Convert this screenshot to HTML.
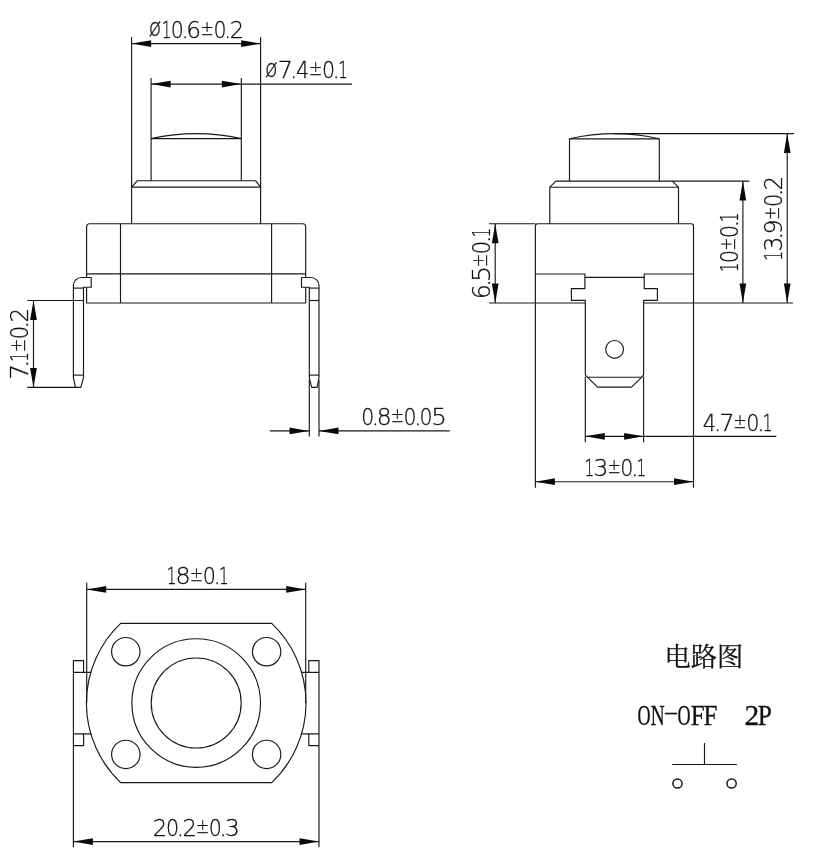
<!DOCTYPE html>
<html lang="zh"><head><meta charset="utf-8"><title>电路图</title>
<style>
html,body{margin:0;padding:0;background:#fff}
body{width:814px;height:854px;overflow:hidden}
svg{display:block;will-change:transform}
.ln{fill:none;stroke:#181818;stroke-width:1.15;stroke-linejoin:round}
.ar{fill:#0a0a0a;stroke:none}
.dm{font-family:"DejaVu Sans","Liberation Sans",sans-serif;font-weight:200;fill:#111;stroke:#111;stroke-width:0.3}
.lb{fill:#111}
</style></head><body>
<svg width="814" height="854" viewBox="0 0 814 854">
<rect width="814" height="854" fill="#fff"/>
<g class="ln">
<line x1="131.6" y1="37" x2="131.6" y2="223.7"/>
<line x1="260.6" y1="37" x2="260.6" y2="223.7"/>
<line x1="151.1" y1="78" x2="151.1" y2="180.7"/>
<line x1="241.3" y1="78" x2="241.3" y2="180.7"/>
<line x1="131.6" y1="43.6" x2="260.6" y2="43.6"/>
<line x1="151.1" y1="84.1" x2="352" y2="84.1"/>
<path d="M151.1,138.6 Q196.2,128.8 241.3,138.6"/>
<line x1="151.1" y1="138.6" x2="241.3" y2="138.6"/>
<path d="M131.6,187.1 L137.4,180.7 L255.5,180.7 L260.6,187.1 Z"/>
<path d="M86.6,277.5 L86.6,226.7 Q86.6,223.7 89.6,223.7 L302.7,223.7 Q305.7,223.7 305.7,226.7 L305.7,277.5"/>
<path d="M86.6,287.2 L86.6,303 L305.7,303 L305.7,287.2"/>
<line x1="120.5" y1="223.7" x2="120.5" y2="303"/>
<line x1="271.6" y1="223.7" x2="271.6" y2="303"/>
<line x1="86.6" y1="273.9" x2="305.7" y2="273.9"/>
<path d="M91.2,277.5 L81.4,277.5 A8,8 0 0 0 73.4,285.5 L73.4,377.6 L75.4,387.3 L80.8,387.3 L83.5,377.6 L83.5,287.9 L83.5,287.2 L91.2,287.2 Z"/>
<line x1="73.4" y1="288.1" x2="83.5" y2="288.1"/>
<line x1="73.4" y1="375.1" x2="83.5" y2="375.1"/>
<path d="M301.5,277.5 L311.0,277.5 A8,8 0 0 1 319.0,285.5 L319.0,377.6 L317.1,387.3 L311.7,387.3 L309.3,377.6 L309.3,287.9 L309.3,287.2 L301.5,287.2 Z"/>
<line x1="319.0" y1="288.1" x2="309.3" y2="288.1"/>
<line x1="319.0" y1="375.1" x2="309.3" y2="375.1"/>
<line x1="27.3" y1="300.5" x2="83.6" y2="300.5"/>
<line x1="27.3" y1="387.3" x2="76" y2="387.3"/>
<line x1="33.5" y1="300.5" x2="33.5" y2="387.4"/>
<line x1="309.3" y1="300.5" x2="319.0" y2="300.5"/>
<line x1="309.3" y1="380" x2="309.3" y2="436.5"/>
<line x1="319.0" y1="380" x2="319.0" y2="436.5"/>
<line x1="269.8" y1="430.9" x2="309.3" y2="430.9"/>
<line x1="319.0" y1="430.9" x2="449.7" y2="430.9"/>
<path d="M569.5,138.8 Q614.4,128.6 659.3,138.8"/>
<line x1="569.5" y1="138.8" x2="659.3" y2="138.8"/>
<line x1="569.5" y1="138.8" x2="569.5" y2="181.1"/>
<line x1="659.3" y1="138.8" x2="659.3" y2="181.1"/>
<path d="M549.8,187.2 L555.9,181.1 L672.3,181.1 L678.5,187.2 Z"/>
<line x1="549.8" y1="187.2" x2="549.8" y2="223.7"/>
<line x1="678.5" y1="187.2" x2="678.5" y2="223.7"/>
<path d="M535.4,487.8 L535.4,225.9 Q535.4,223.7 537.6,223.7 L691.3,223.7 Q693.5,223.7 693.5,225.9 L693.5,487.8"/>
<path d="M535.4,274 L584.9,274 L584.9,288.6 L571.4,288.6 L571.4,300.3 L585.3,300.3 L585.3,374.8 L587.4,377.2"/>
<line x1="585.3" y1="376.5" x2="585.3" y2="442.2"/>
<path d="M693.5,274 L644.2,274 L644.2,288.6 L657.4,288.6 L657.4,300.3 L643.6,300.3 L643.6,374.8 L641.8,377.2"/>
<line x1="643.6" y1="376.5" x2="643.6" y2="442.2"/>
<line x1="584.9" y1="277.3" x2="644.2" y2="277.3"/>
<line x1="489" y1="303" x2="585.3" y2="303"/>
<line x1="643.6" y1="303" x2="793" y2="303"/>
<line x1="489" y1="223.7" x2="535.4" y2="223.7"/>
<line x1="587.4" y1="377.2" x2="641.8" y2="377.2"/>
<path d="M587.4,377.2 L597.5,387.1 L631.5,387.1 L641.8,377.2"/>
<circle cx="614.6" cy="349.4" r="8.9"/>
<line x1="495.2" y1="223.7" x2="495.2" y2="303"/>
<line x1="672.3" y1="181.1" x2="749.3" y2="181.1"/>
<line x1="742.9" y1="181.1" x2="742.9" y2="303"/>
<line x1="614" y1="133.6" x2="794" y2="133.6"/>
<line x1="787.2" y1="133.6" x2="787.2" y2="303"/>
<line x1="585.3" y1="436.3" x2="776.3" y2="436.3"/>
<line x1="535.4" y1="481.7" x2="693.5" y2="481.7"/>
<path d="M120.7,623.4 L271.7,623.4 A109.5,109.5 0 0 1 271.7,782.6 L120.7,782.6 A109.5,109.5 0 0 1 120.7,623.4 Z"/>
<circle cx="196.2" cy="703.0" r="64.3"/>
<circle cx="196.2" cy="703.0" r="45.0"/>
<circle cx="125.8" cy="651.7" r="14.2"/>
<circle cx="125.8" cy="754.4" r="14.2"/>
<circle cx="266.6" cy="651.7" r="14.2"/>
<circle cx="266.6" cy="754.4" r="14.2"/>
<path d="M91.1,672.4 L73.4,672.4 M83.6,672.4 L83.6,660.6 L73.4,660.6 L73.4,847.2"/>
<path d="M91.1,733.8 L73.4,733.8 M83.6,733.8 L83.6,745.6 L73.4,745.6"/>
<path d="M301.3,672.4 L319.0,672.4 M308.8,672.4 L308.8,660.6 L319.0,660.6 L319.0,847.2"/>
<path d="M301.3,733.8 L319.0,733.8 M308.8,733.8 L308.8,745.6 L319.0,745.6"/>
<line x1="86.7" y1="582.7" x2="86.7" y2="703"/>
<line x1="305.7" y1="582.7" x2="305.7" y2="703"/>
<line x1="86.7" y1="589.4" x2="305.7" y2="589.4"/>
<line x1="73.4" y1="841.6" x2="319.0" y2="841.6"/>
<line x1="704.5" y1="743.0" x2="704.5" y2="764.5"/>
<line x1="672.2" y1="764.5" x2="736.9" y2="764.5"/>
<circle cx="677.5" cy="783.5" r="4.6" stroke-width="1.5"/>
<circle cx="731.6" cy="783.5" r="4.6" stroke-width="1.5"/>
</g>
<g class="ar">
<polygon points="131.6,43.6 151.1,40.2 151.1,47.0"/>
<polygon points="260.6,43.6 241.1,40.2 241.1,47.0"/>
<polygon points="151.1,84.1 170.6,80.8 170.6,87.4"/>
<polygon points="241.3,84.1 221.8,80.8 221.8,87.4"/>
<polygon points="33.5,300.5 30.1,320.0 36.9,320.0"/>
<polygon points="33.5,387.4 30.1,367.9 36.9,367.9"/>
<polygon points="309.0,430.9 289.5,427.5 289.5,434.2"/>
<polygon points="319.0,430.9 338.5,427.5 338.5,434.2"/>
<polygon points="495.2,223.7 491.8,243.2 498.6,243.2"/>
<polygon points="495.2,303.0 491.8,283.5 498.6,283.5"/>
<polygon points="742.9,181.1 739.5,200.6 746.2,200.6"/>
<polygon points="742.9,303.0 739.5,283.5 746.2,283.5"/>
<polygon points="787.2,133.6 783.9,153.1 790.6,153.1"/>
<polygon points="787.2,303.0 783.9,283.5 790.6,283.5"/>
<polygon points="585.3,436.3 604.8,432.9 604.8,439.7"/>
<polygon points="643.6,436.3 624.1,432.9 624.1,439.7"/>
<polygon points="535.4,481.7 554.9,478.3 554.9,485.1"/>
<polygon points="693.5,481.7 674.0,478.3 674.0,485.1"/>
<polygon points="86.7,589.4 106.2,586.0 106.2,592.8"/>
<polygon points="305.7,589.4 286.2,586.0 286.2,592.8"/>
<polygon points="73.4,841.6 92.9,838.2 92.9,845.0"/>
<polygon points="319.0,841.6 299.5,838.2 299.5,845.0"/>
</g>
<g class="dm">
<text transform="translate(149.5,38.0)" y="0" font-size="23.2"><tspan x="-0.80" textLength="12.53" lengthAdjust="spacingAndGlyphs" font-size="25.5" dy="-1.8">ø</tspan><tspan x="12.24" textLength="9.60" lengthAdjust="spacingAndGlyphs" dy="1.8">1</tspan><tspan x="21.30" textLength="13.08" lengthAdjust="spacingAndGlyphs">0</tspan><tspan x="31.99">.</tspan><tspan x="36.89" textLength="14.85" lengthAdjust="spacingAndGlyphs">6</tspan><tspan x="51.08" textLength="13.28" lengthAdjust="spacingAndGlyphs" font-size="20.0" dy="-3.0">±</tspan><tspan x="63.90" textLength="13.08" lengthAdjust="spacingAndGlyphs" dy="3.0">0</tspan><tspan x="74.59">.</tspan><tspan x="80.19" textLength="14.37" lengthAdjust="spacingAndGlyphs">2</tspan></text>
<text transform="translate(265.9,78.4)" y="0" font-size="23.2"><tspan x="-0.80" textLength="12.56" lengthAdjust="spacingAndGlyphs" font-size="25.5" dy="-1.8">ø</tspan><tspan x="11.97" textLength="15.18" lengthAdjust="spacingAndGlyphs" dy="1.8">7</tspan><tspan x="24.03">.</tspan><tspan x="30.18" textLength="13.27" lengthAdjust="spacingAndGlyphs">4</tspan><tspan x="43.16" textLength="13.31" lengthAdjust="spacingAndGlyphs" font-size="20.0" dy="-3.0">±</tspan><tspan x="56.01" textLength="13.10" lengthAdjust="spacingAndGlyphs" dy="3.0">0</tspan><tspan x="66.72">.</tspan><tspan x="72.24" textLength="9.62" lengthAdjust="spacingAndGlyphs">1</tspan></text>
<text transform="translate(27.6,377.6) rotate(-90)" y="0" font-size="24.4"><tspan x="-1.99" textLength="15.46" lengthAdjust="spacingAndGlyphs">7</tspan><tspan x="10.19">.</tspan><tspan x="15.91" textLength="9.80" lengthAdjust="spacingAndGlyphs">1</tspan><tspan x="25.32" textLength="13.56" lengthAdjust="spacingAndGlyphs" font-size="21.0" dy="-3.0">±</tspan><tspan x="38.41" textLength="13.35" lengthAdjust="spacingAndGlyphs" dy="3.0">0</tspan><tspan x="49.22">.</tspan><tspan x="55.04" textLength="14.67" lengthAdjust="spacingAndGlyphs">2</tspan></text>
<text transform="translate(363.0,424.5)" y="0" font-size="23.2"><tspan x="-1.82" textLength="13.00" lengthAdjust="spacingAndGlyphs">0</tspan><tspan x="8.79">.</tspan><tspan x="13.74" textLength="14.90" lengthAdjust="spacingAndGlyphs">8</tspan><tspan x="27.80" textLength="13.21" lengthAdjust="spacingAndGlyphs" font-size="20.0" dy="-3.0">±</tspan><tspan x="40.55" textLength="13.00" lengthAdjust="spacingAndGlyphs" dy="3.0">0</tspan><tspan x="51.16">.</tspan><tspan x="56.48" textLength="13.00" lengthAdjust="spacingAndGlyphs">0</tspan><tspan x="68.17" textLength="15.67" lengthAdjust="spacingAndGlyphs">5</tspan></text>
<text transform="translate(489.6,297.0) rotate(-90)" y="0" font-size="24.4"><tspan x="-2.31" textLength="15.16" lengthAdjust="spacingAndGlyphs">6</tspan><tspan x="10.19">.</tspan><tspan x="15.10" textLength="16.08" lengthAdjust="spacingAndGlyphs">5</tspan><tspan x="29.77" textLength="13.56" lengthAdjust="spacingAndGlyphs" font-size="21.0" dy="-3.0">±</tspan><tspan x="42.86" textLength="13.35" lengthAdjust="spacingAndGlyphs" dy="3.0">0</tspan><tspan x="53.67">.</tspan><tspan x="59.39" textLength="9.80" lengthAdjust="spacingAndGlyphs">1</tspan></text>
<text transform="translate(737.9,270.4) rotate(-90)" y="0" font-size="24.4"><tspan x="-1.64" textLength="9.50" lengthAdjust="spacingAndGlyphs">1</tspan><tspan x="7.32" textLength="12.94" lengthAdjust="spacingAndGlyphs">0</tspan><tspan x="19.73" textLength="13.14" lengthAdjust="spacingAndGlyphs" font-size="21.0" dy="-3.0">±</tspan><tspan x="32.41" textLength="12.94" lengthAdjust="spacingAndGlyphs" dy="3.0">0</tspan><tspan x="42.79">.</tspan><tspan x="48.44" textLength="9.50" lengthAdjust="spacingAndGlyphs">1</tspan></text>
<text transform="translate(781.8,259.0) rotate(-90)" y="0" font-size="24.4"><tspan x="-1.68" textLength="9.74" lengthAdjust="spacingAndGlyphs">1</tspan><tspan x="7.58" textLength="14.97" lengthAdjust="spacingAndGlyphs">3</tspan><tspan x="19.48">.</tspan><tspan x="24.57" textLength="15.07" lengthAdjust="spacingAndGlyphs">9</tspan><tspan x="38.97" textLength="13.48" lengthAdjust="spacingAndGlyphs" font-size="21.0" dy="-3.0">±</tspan><tspan x="51.98" textLength="13.27" lengthAdjust="spacingAndGlyphs" dy="3.0">0</tspan><tspan x="62.71">.</tspan><tspan x="68.51" textLength="14.58" lengthAdjust="spacingAndGlyphs">2</tspan></text>
<text transform="translate(703.8,430.8)" y="0" font-size="23.2"><tspan x="-1.03" textLength="13.39" lengthAdjust="spacingAndGlyphs">4</tspan><tspan x="10.23">.</tspan><tspan x="15.47" textLength="15.33" lengthAdjust="spacingAndGlyphs">7</tspan><tspan x="29.51" textLength="13.44" lengthAdjust="spacingAndGlyphs" font-size="20.0" dy="-3.0">±</tspan><tspan x="42.48" textLength="13.23" lengthAdjust="spacingAndGlyphs" dy="3.0">0</tspan><tspan x="53.33">.</tspan><tspan x="58.86" textLength="9.71" lengthAdjust="spacingAndGlyphs">1</tspan></text>
<text transform="translate(586.1,476.3)" y="0" font-size="23.2"><tspan x="-1.67" textLength="9.66" lengthAdjust="spacingAndGlyphs">1</tspan><tspan x="7.52" textLength="14.85" lengthAdjust="spacingAndGlyphs">3</tspan><tspan x="21.30" textLength="13.37" lengthAdjust="spacingAndGlyphs" font-size="20.0" dy="-3.0">±</tspan><tspan x="34.20" textLength="13.16" lengthAdjust="spacingAndGlyphs" dy="3.0">0</tspan><tspan x="44.98">.</tspan><tspan x="50.50" textLength="9.66" lengthAdjust="spacingAndGlyphs">1</tspan></text>
<text transform="translate(168.4,583.9)" y="0" font-size="23.2"><tspan x="-1.68" textLength="9.70" lengthAdjust="spacingAndGlyphs">1</tspan><tspan x="7.09" textLength="15.13" lengthAdjust="spacingAndGlyphs">8</tspan><tspan x="21.37" textLength="13.42" lengthAdjust="spacingAndGlyphs" font-size="20.0" dy="-3.0">±</tspan><tspan x="34.32" textLength="13.21" lengthAdjust="spacingAndGlyphs" dy="3.0">0</tspan><tspan x="45.14">.</tspan><tspan x="50.67" textLength="9.70" lengthAdjust="spacingAndGlyphs">1</tspan></text>
<text transform="translate(154.2,835.8)" y="0" font-size="23.2"><tspan x="-1.57" textLength="14.45" lengthAdjust="spacingAndGlyphs">2</tspan><tspan x="11.82" textLength="13.14" lengthAdjust="spacingAndGlyphs">0</tspan><tspan x="22.59">.</tspan><tspan x="28.21" textLength="14.45" lengthAdjust="spacingAndGlyphs">2</tspan><tspan x="41.76" textLength="13.35" lengthAdjust="spacingAndGlyphs" font-size="20.0" dy="-3.0">±</tspan><tspan x="54.65" textLength="13.14" lengthAdjust="spacingAndGlyphs" dy="3.0">0</tspan><tspan x="65.41">.</tspan><tspan x="70.82" textLength="14.83" lengthAdjust="spacingAndGlyphs">3</tspan></text>
</g>
<g class="lb">
<text x="664.4" y="666.2" font-size="26.3" stroke="#111" stroke-width="0.25" font-family="'Liberation Serif','Noto Serif CJK SC',serif">电路图</text>
<text y="724.8" font-size="29.0" font-family="'Liberation Serif',serif" stroke="#111" stroke-width="0.3" xml:space="preserve"><tspan x="637.56" textLength="13.09" lengthAdjust="spacingAndGlyphs">O</tspan><tspan x="650.64" textLength="13.91" lengthAdjust="spacingAndGlyphs">N</tspan><tspan x="663.55" textLength="14.86" lengthAdjust="spacingAndGlyphs" dy="-6.5" font-size="16">-</tspan><tspan x="677.56" textLength="13.09" lengthAdjust="spacingAndGlyphs" dy="6.5">O</tspan><tspan x="690.67" textLength="13.93" lengthAdjust="spacingAndGlyphs">F</tspan><tspan x="703.57" textLength="13.93" lengthAdjust="spacingAndGlyphs">F</tspan>  <tspan x="744.41" textLength="14.71" lengthAdjust="spacingAndGlyphs">2</tspan><tspan x="757.86" textLength="14.16" lengthAdjust="spacingAndGlyphs">P</tspan></text>
</g>
</svg>
</body></html>
